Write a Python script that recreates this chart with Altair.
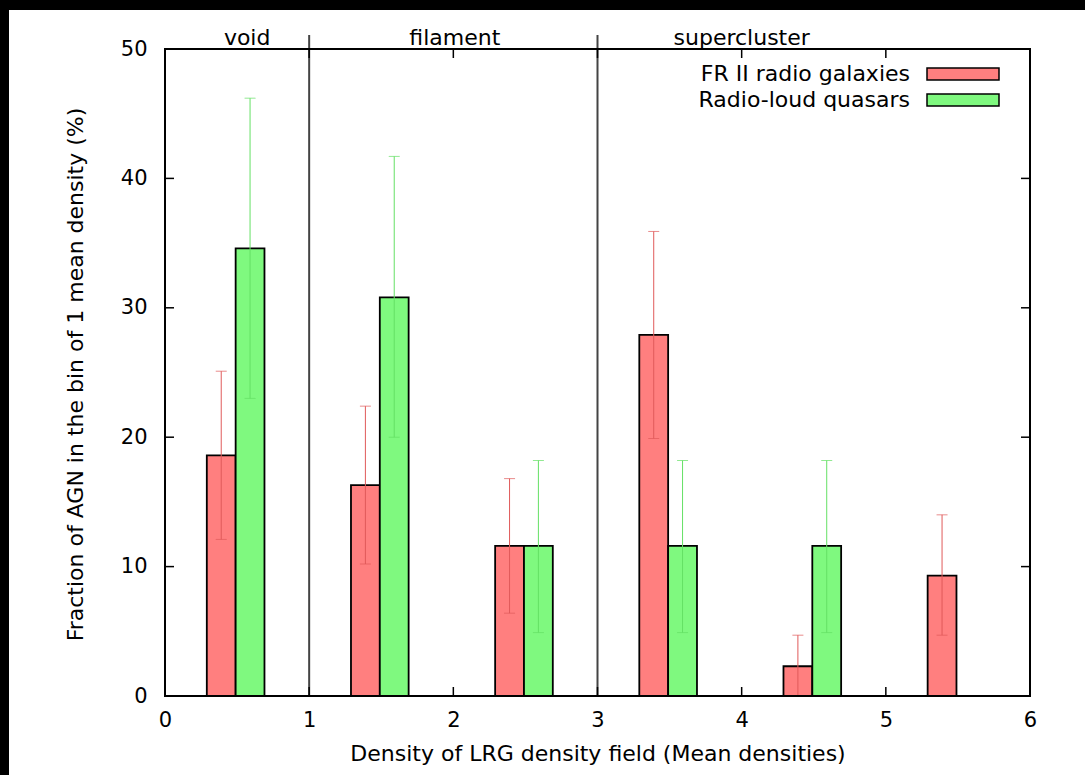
import altair as alt
import pandas as pd

# ---- data ----
bins = [0, 1, 2, 3, 4, 5]
series = ["FR II radio galaxies", "Radio-loud quasars"]
fr2 = [18.6, 16.3, 11.6, 27.9, 2.3, 9.3]
fr2_lo = [12.1, 10.2, 6.4, 19.9, 0.0, 4.7]
fr2_hi = [25.1, 22.4, 16.8, 35.9, 4.7, 14.0]
rlq = [34.6, 30.8, 11.6, 11.6, 11.6, None]
rlq_lo = [23.0, 20.0, 4.9, 4.9, 4.9, None]
rlq_hi = [46.2, 41.7, 18.2, 18.2, 18.2, None]
x_ticks = [0, 1, 2, 3, 4, 5, 6]
y_ticks = [0, 10, 20, 30, 40, 50]
separators = [1, 3]
regions = ["void", "filament", "supercluster"]
region_pos = [0.57, 2.01, 4.0]

W, H = 865, 647
FONT = "DejaVu Sans"
fills = ["#ff7f7f", "#7ff97f"]
errc = ["#e05a5a", "#64e064"]

rows = []
for i, b in enumerate(bins):
    for s, vals, lo, hi, off in [(series[0], fr2, fr2_lo, fr2_hi, 0.29),
                                 (series[1], rlq, rlq_lo, rlq_hi, 0.49)]:
        if vals[i] is None:
            continue
        rows.append(dict(series=s, x0=b + off, x1=b + off + 0.2, xc=b + off + 0.1,
                         v=vals[i], lo=lo[i], hi=hi[i]))
df = pd.DataFrame(rows)

xs = alt.Scale(domain=[0, 6], nice=False, zero=False)
ys = alt.Scale(domain=[0, 50], nice=False)
fill_scale = alt.Scale(domain=series, range=fills)
err_scale = alt.Scale(domain=series, range=errc)

one = pd.DataFrame({"a": [0]})

# black strips along the top and left edges of the picture
strip_top = alt.Chart(one).mark_rect(fill="black").encode(
    x=alt.value(-170), x2=alt.value(1000), y=alt.value(-60), y2=alt.value(-39))
strip_left = alt.Chart(one).mark_rect(fill="black").encode(
    x=alt.value(-170), x2=alt.value(-156), y=alt.value(-60), y2=alt.value(800))

xaxis = alt.Axis(values=x_ticks, format="d", title="Density of LRG density field (Mean densities)",
                 ticks=False, domain=False, grid=False, labelFontSize=21, labelFont=FONT,
                 labelColor="black", labelPadding=13, labelFlush=False,
                 titleFont=FONT, titleFontSize=22, titleFontWeight="normal", titleColor="black",
                 titleY=57, titleBaseline="middle", zindex=1)
yaxis = alt.Axis(values=y_ticks, format="d", title="Fraction of AGN in the bin of 1 mean density (%)",
                 ticks=False, domain=False, grid=False, labelFontSize=21, labelFont=FONT,
                 labelColor="black", labelPadding=18, labelFlush=False,
                 titleFont=FONT, titleFontSize=22, titleFontWeight="normal", titleColor="black",
                 titleAngle=270, titleX=-90, titleY=325, titleAlign="center",
                 titleBaseline="middle", zindex=1)

bars = alt.Chart(df).mark_rect(stroke="black", strokeWidth=1.8).encode(
    x=alt.X("x0:Q", scale=xs, axis=xaxis),
    x2="x1:Q",
    y=alt.Y("v:Q", scale=ys, axis=yaxis),
    y2=alt.datum(0),
    fill=alt.Fill("series:N", scale=fill_scale, legend=None),
)

err = alt.Chart(df).mark_rule(strokeWidth=1).encode(
    x=alt.X("xc:Q", scale=xs), y=alt.Y("lo:Q", scale=ys), y2="hi:Q",
    color=alt.Color("series:N", scale=err_scale, legend=None))
cap_lo = alt.Chart(df).mark_tick(orient="horizontal", size=11, thickness=1).encode(
    x=alt.X("xc:Q", scale=xs), y=alt.Y("lo:Q", scale=ys),
    color=alt.Color("series:N", scale=err_scale, legend=None))
cap_hi = alt.Chart(df).mark_tick(orient="horizontal", size=11, thickness=1).encode(
    x=alt.X("xc:Q", scale=xs), y=alt.Y("hi:Q", scale=ys),
    color=alt.Color("series:N", scale=err_scale, legend=None))

sep = alt.Chart(pd.DataFrame({"s": separators})).mark_rule(color="#444444", strokeWidth=2).encode(
    x=alt.X("s:Q", scale=xs), y=alt.value(-14), y2=alt.value(H))

reg = alt.Chart(pd.DataFrame({"name": regions, "p": region_pos})).mark_text(
    font=FONT, fontSize=22, color="black", baseline="middle").encode(
    x=alt.X("p:Q", scale=xs), y=alt.value(-11), text="name:N")

xt = pd.DataFrame({"t": x_ticks})
yt = pd.DataFrame({"t": y_ticks})
tb = alt.Chart(xt).mark_rule(color="black", strokeWidth=1.5).encode(
    x=alt.X("t:Q", scale=xs), y=alt.value(H), y2=alt.value(H - 9))
tt = alt.Chart(xt).mark_rule(color="black", strokeWidth=1.5).encode(
    x=alt.X("t:Q", scale=xs), y=alt.value(0), y2=alt.value(9))
tl = alt.Chart(yt).mark_rule(color="black", strokeWidth=1.5).encode(
    y=alt.Y("t:Q", scale=ys), x=alt.value(0), x2=alt.value(9))
tr = alt.Chart(yt).mark_rule(color="black", strokeWidth=1.5).encode(
    y=alt.Y("t:Q", scale=ys), x=alt.value(W), x2=alt.value(W - 9))

frame = alt.Chart(one).mark_rect(fill=None, stroke="black", strokeWidth=2).encode(
    x=alt.value(0), x2=alt.value(W), y=alt.value(0), y2=alt.value(H))

# legend (text left, swatch right, as in the reference)
leg_layers = []
for i, s in enumerate(series):
    cy = 25 + 26 * i
    leg_layers.append(alt.Chart(one).mark_text(font=FONT, fontSize=22, align="right",
                                               baseline="middle", color="black", text=s).encode(
        x=alt.value(745), y=alt.value(cy)))
    leg_layers.append(alt.Chart(one).mark_rect(fill=fills[i], stroke="black", strokeWidth=1.5).encode(
        x=alt.value(762), x2=alt.value(834), y=alt.value(cy - 6), y2=alt.value(cy + 6)))

chart = alt.layer(strip_top, strip_left, bars, err, cap_lo, cap_hi, sep, reg,
                  tb, tt, tl, tr, frame, *leg_layers).properties(
    width=W, height=H,
    autosize=alt.AutoSizeParams(type="none"),
    padding={"left": 165, "top": 49, "right": 55, "bottom": 79},
    background="white",
).configure_view(stroke=None)

chart.save("out.html", embed_options={"renderer": "svg", "actions": False})
